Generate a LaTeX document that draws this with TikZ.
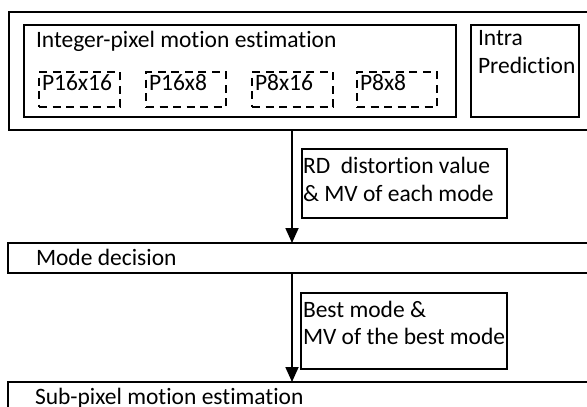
\documentclass[tikz,border=0pt]{standalone}
\usepackage{fontspec}
\setmainfont{Carlito}[Ligatures=NoCommon]
\usetikzlibrary{arrows.meta}

\tikzset{
  box/.style={draw, line width=1.5pt, rectangle, inner sep=0pt, outer sep=0pt, anchor=north west},
  stage/.style={box, line width=2.8pt},
  mode/.style={box, line width=1.8pt, dash pattern=on 8pt off 5.5pt},
  txt/.style={anchor=base west, inner sep=0pt, outer sep=0pt, font=\fontsize{23.5}{28}\selectfont},
  flow/.style={line width=1.8pt, -{Triangle[length=15pt,width=13pt]}}
}

\begin{document}
\begin{tikzpicture}[x=1pt, y=-1pt]
  \useasboundingbox (0,0) rectangle (587,407);
  \clip (0,0) rectangle (587,407);

  % stage boxes
  \node[stage, minimum width=579pt, minimum height=118pt] (ime) at (9,12) {};
  \node[stage, minimum width=580pt, minimum height=30pt] (md) at (8,243) {};
  \node[stage, minimum width=580pt, minimum height=60pt] (sme) at (8,382) {};

  % integer-pixel search and intra prediction
  \node[box, minimum width=432pt, minimum height=92pt] (int) at (24,25) {};
  \node[box, minimum width=108pt, minimum height=92pt] (intra) at (471,25) {};

  % partition modes
  \node[mode, minimum width=81pt, minimum height=35pt] (p1) at (39,72) {};
  \node[mode, minimum width=80pt, minimum height=35pt] (p2) at (146,72) {};
  \node[mode, minimum width=81pt, minimum height=35pt] (p3) at (252,72) {};
  \node[mode, minimum width=80pt, minimum height=35pt] (p4) at (357,72) {};

  % data passed between stages
  \node[box, minimum width=205pt, minimum height=69pt] (l1) at (302,149) {};
  \node[box, minimum width=206pt, minimum height=76pt] (l2) at (301,293) {};

  % texts
  \node[txt] (tint) at (36,47) {Integer-pixel motion estimation};
  \node[txt] (tintra1) at (478,45) {Intra};
  \node[txt] (tintra2) at (478,73) {Prediction};
  \node[txt] (tp1) at (42,90) {P16x16};
  \node[txt] (tp2) at (149,90) {P16x8};
  \node[txt] (tp3) at (255,90) {P8x16};
  \node[txt] (tp4) at (360,90) {P8x8};
  \node[txt] (tl1a) at (303,173) {RD\ \ distortion value};
  \node[txt] (tl1b) at (303,201) {\& MV of each mode};
  \node[txt] (tmd) at (36,265) {Mode decision};
  \node[txt] (tl2a) at (303,317) {Best mode \&};
  \node[txt] (tl2b) at (303,344) {MV of the best mode};
  \node[txt] (tsme) at (35,404) {Sub-pixel motion estimation};

  % connectors
  \coordinate (ax) at (292,0);
  \draw[flow] (ime.south -| ax) -- (md.north -| ax);
  \draw[flow] (md.south -| ax) -- (sme.north -| ax);
\end{tikzpicture}
\end{document}
